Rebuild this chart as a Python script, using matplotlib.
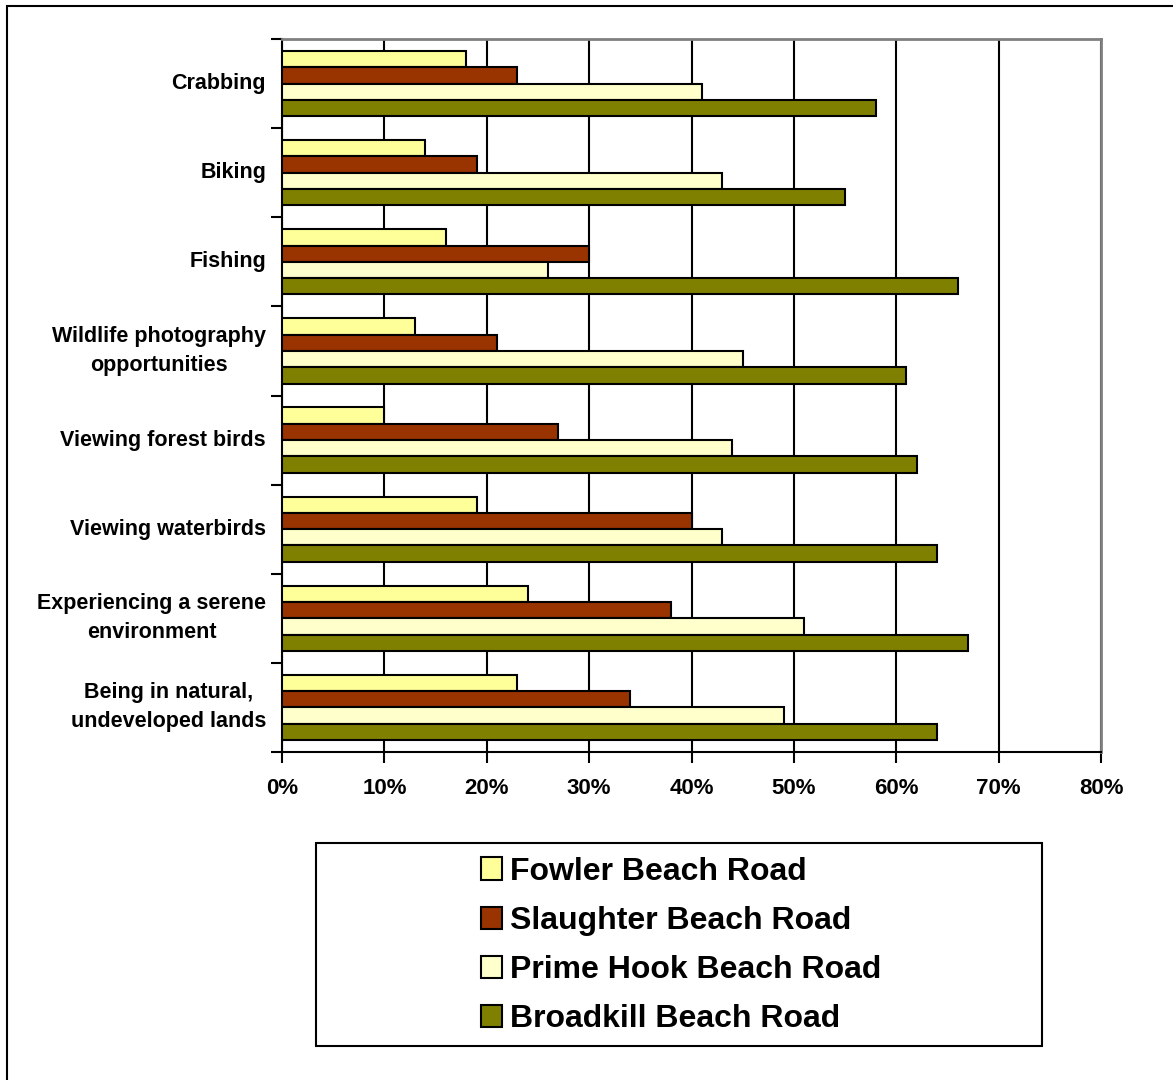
import numpy as np
import matplotlib
matplotlib.use("Agg")
import matplotlib.pyplot as plt
from matplotlib.patches import Rectangle, Patch

plt.rcParams['font.family'] = ['Liberation Sans', 'DejaVu Sans']
plt.rcParams['font.weight'] = 'bold'

# Activities, listed top to bottom
activities = [
    "Crabbing",
    "Biking",
    "Fishing",
    "Wildlife photography\nopportunities",
    "Viewing forest birds",
    "Viewing waterbirds",
    "Experiencing a serene\nenvironment",
    "Being in natural,\nundeveloped lands",
]

# Percent of respondents, per road
fowler = [18, 14, 16, 13, 10, 19, 24, 23]
slaughter = [23, 19, 30, 21, 27, 40, 38, 34]
prime_hook = [41, 43, 26, 45, 44, 43, 51, 49]
broadkill = [58, 55, 66, 61, 62, 64, 67, 64]

roads = ["Fowler Beach Road", "Slaughter Beach Road",
         "Prime Hook Beach Road", "Broadkill Beach Road"]
colors = ["#FFFF99", "#993300", "#FFFFCC", "#808000"]
x_ticks = [0, 10, 20, 30, 40, 50, 60, 70, 80]

fig = plt.figure(figsize=(11.73, 10.8), dpi=100)

# outer frame around the whole chart
fig.patches.append(Rectangle((7 / 1173, -0.1), 1.2, 1.1 - 6 / 1080,
                             transform=fig.transFigure, fill=False,
                             edgecolor="black", linewidth=1.5))

ax = fig.add_axes([282 / 1173, 1 - 752 / 1080, 819 / 1173, 713 / 1080])

y = np.arange(len(activities))
h = 0.183
series = [fowler, slaughter, prime_hook, broadkill]
for k, (vals, col) in enumerate(zip(series, colors)):
    ax.barh(y + (k - 1.5) * h, vals, height=h, color=col,
            edgecolor="black", linewidth=1.5, zorder=3)

ax.set_xlim(0, 80)
ax.set_ylim(len(activities) - 0.5, -0.5)

ax.set_xticks(x_ticks)
ax.set_xticklabels([f"{t}%" for t in x_ticks], fontsize=16, fontweight="bold")
ax.tick_params(axis="x", direction="out", length=8, width=1.5, pad=11)

ax.set_yticks(y)
ax.set_yticklabels(activities, fontsize=15.5, fontweight="bold",
                   linespacing=1.5, ha="right", va="center",
                   multialignment="center")
ax.set_yticks(np.arange(len(activities) + 1) - 0.5, minor=True)
ax.tick_params(axis="y", which="major", length=0, pad=11.5)
ax.tick_params(axis="y", which="minor", direction="out", length=8, width=1.5)

ax.grid(axis="x", color="black", linewidth=1.5, zorder=0)
ax.set_axisbelow(True)

for side in ("top", "right"):
    ax.spines[side].set_color("#808080")
    ax.spines[side].set_linewidth(2)
for side in ("left", "bottom"):
    ax.spines[side].set_color("black")
    ax.spines[side].set_linewidth(1.5)

# legend in its own box below the plot
fig.patches.append(Rectangle((316 / 1173, 1 - 1046 / 1080), 726 / 1173, 203 / 1080,
                             transform=fig.transFigure, fill=False,
                             edgecolor="black", linewidth=1.5))
handles = [Patch(facecolor=c, edgecolor="black", linewidth=1.5) for c in colors]
fig.legend(handles, roads, loc="center",
           bbox_to_anchor=(681 / 1173, 1 - 945.5 / 1080),
           frameon=False, prop={"size": 23, "weight": "bold"},
           handlelength=0.65, handleheight=0.7, handletextpad=0.25,
           labelspacing=0.6)

fig.savefig("out.png", dpi=100)
